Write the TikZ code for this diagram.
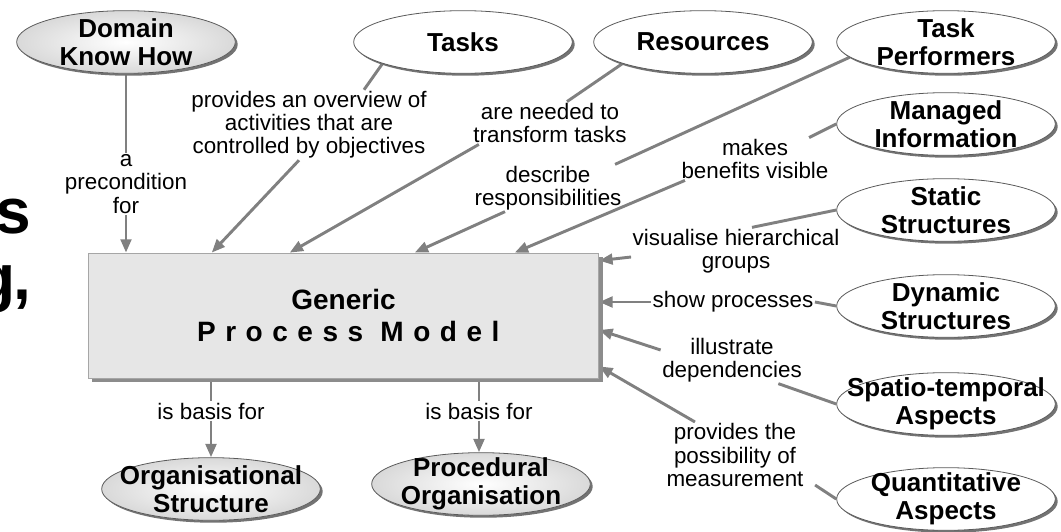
\documentclass[tikz,border=0pt]{standalone}
\usepackage{fontspec}
\setmainfont{Liberation Sans}
\usetikzlibrary{shapes.geometric,shadows,arrows.meta,calc,backgrounds}
\definecolor{linegray}{HTML}{808080}
\definecolor{boxfill}{HTML}{E6E6E6}
\definecolor{rim}{HTML}{5A5A5A}
\begin{document}
\begin{tikzpicture}[x=0.75pt,y=-0.75pt,
  ell/.style={ellipse, draw=rim, line width=0.6pt, fill=white,
    minimum width=164pt, minimum height=47pt, inner xsep=-24pt, inner ysep=-9pt,
    align=center, font=\fontsize{19.5}{21}\selectfont\bfseries,
    drop shadow={shadow xshift=1.8pt, shadow yshift=-1.8pt, fill=black!55, opacity=1}},
  gell/.style={ell, inner color=white, outer color=gray!30},
  pmbox/.style={rectangle, draw=gray!70, line width=0.6pt, fill=boxfill,
    minimum width=383pt, minimum height=93.75pt, align=center,
    font=\fontsize{21}{24}\selectfont\bfseries,
    drop shadow={shadow xshift=3pt, shadow yshift=-3pt, fill=gray!90, opacity=1}},
  lab/.style={align=center, inner sep=1pt, font=\fontsize{16.8}{17.4}\selectfont},
  link/.style={draw=linegray, line width=2.2pt},
  arr/.style={link, -{Triangle[length=10pt,width=8pt]}},
  big/.style={anchor=base east, inner sep=0pt, font=\fontsize{48}{48}\selectfont\bfseries},
]
\useasboundingbox (0,0) rectangle (1061,532);

% partially visible large text at the left edge
\node[big] (bigs) at (31,233) {s};
\node[big] (bigg) at (31,299) {g\kern-2pt,};

% ellipses
\node[gell] (dom) at (126,42) {Domain\\Know How};
\node[ell] (tasks) at (463,42) {Tasks};
\node[ell] (res) at (703,42) {Resources};
\node[ell] (perf) at (946,42) {Task\\Performers};
\node[ell] (info) at (946,124) {Managed\\Information};
\node[ell] (stat) at (946,210) {Static\\Structures};
\node[ell] (dyn) at (946,306) {Dynamic\\Structures};
\node[ell] (spat) at (946,404) {Spatio-temporal\\Aspects};
\node[ell] (quan) at (946,499) {Quantitative\\Aspects};
\node[gell] (org) at (211,489) {Organisational\\Structure};
\node[gell] (proc) at (481,484) {Procedural\\Organisation};

% central box
\node[pmbox] (box) at (343.5,315.5) {Generic\\{\addfontfeatures{LetterSpace=34}Process Model\kern-0.34em}};

% labels
\node[lab] (lpre) at (126,184) {a\\precondition\\for};
\node[lab] (lov) at (309,125) {provides an overview of\\activities that are\\controlled by objectives};
\node[lab] (lnd) at (550,123) {are needed to\\transform tasks};
\node[lab] (ldesc) at (548,188) {describe\\responsibilities};
\node[lab] (lben) at (755,159) {makes\\benefits visible};
\node[lab] (lvis) at (736,251) {visualise hierarchical\\groups};
\node[lab] (lshow) at (733,302) {show processes};
\node[lab] (lill) at (732,360) {illustrate\\dependencies};
\node[lab] (lmeas) at (735,455) {provides the\\possibility of\\measurement};
\node[lab] (lob1) at (211,411) {is basis for};
\node[lab] (lob2) at (479,411) {is basis for};

\begin{pgfonlayer}{background}
\draw[link] (dom.south) -- (lpre.north);
\draw[arr] (lpre.south) -- (lpre.south |- box.north);
\draw[link] (tasks.195) -- ($(lov.north)+(55,0)$);
\draw[arr] ($(lov.south)+(-10,0)$) -- ($(box.north west)+(124,0)$);
\draw[link] (res.195) -- ($(lnd.north)+(17,0)$);
\draw[arr] ($(lnd.south west)+(7,0)$) -- ($(box.north west)+(202,0)$);
\draw[link] (perf.189) -- ($(ldesc.north east)+(-8,0)$);
\draw[arr] ($(ldesc.south)+(-43,0)$) -- ($(box.north west)+(327,0)$);
\draw[link] (info.west) -- ($(lben.north east)+(-21,0)$);
\draw[arr] ($(lben.south west)+(5,0)$) -- ($(box.north west)+(427,0)$);
\draw[link] (stat.west) -- ($(lvis.north)+(16,0)$);
\draw[arr] ($(lvis.west)+(0,6)$) -- ($(box.north east)+(0,8)$);
\draw[link] (dyn.west) -- (lshow.east);
\draw[arr] (lshow.west) -- (lshow.west -| box.east);
\draw[link] (spat.west) -- ($(lill.south east)+(-25,0)$);
\draw[arr] ($(lill.west)+(0,-10)$) -- ($(box.east)+(0,14.5)$);
\draw[link] (quan.west) -- ($(lmeas.south east)+(10,-3)$);
\draw[arr] ($(lmeas.north)+(-40,0)$) -- ($(box.south east)+(0,-12)$);
\draw[link] (box.south -| lob1) -- (lob1.north);
\draw[arr] (lob1.south) -- (lob1.south |- org.north);
\draw[link] (box.south -| lob2) -- (lob2.north);
\draw[arr] (lob2.south) -- (lob2.south |- proc.north);
\end{pgfonlayer}
\end{tikzpicture}
\end{document}
